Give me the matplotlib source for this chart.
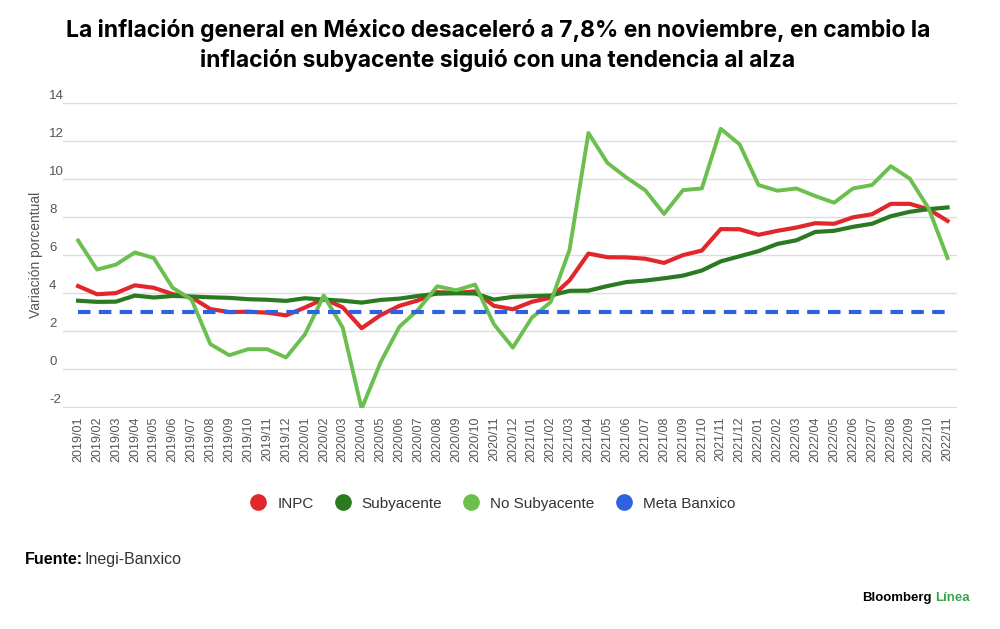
import matplotlib
matplotlib.use("Agg")
import matplotlib.pyplot as plt
from matplotlib.lines import Line2D
from matplotlib import transforms

# %%
months = [f"{y}/{m:02d}" for y in range(2019, 2023) for m in range(1, 13)][:47]

inpc = [4.37, 3.94, 4.00, 4.41, 4.28, 3.95, 3.78, 3.16, 3.00, 3.02, 2.97, 2.83,
        3.24, 3.70, 3.25, 2.15, 2.84, 3.33, 3.62, 4.05, 4.01, 4.09, 3.33, 3.15,
        3.54, 3.76, 4.67, 6.08, 5.89, 5.88, 5.81, 5.59, 6.00, 6.24, 7.37, 7.36,
        7.07, 7.28, 7.45, 7.68, 7.65, 7.99, 8.15, 8.70, 8.70, 8.41, 7.80]
subyacente = [3.60, 3.54, 3.55, 3.87, 3.77, 3.85, 3.82, 3.78, 3.75, 3.68, 3.65, 3.59,
              3.73, 3.66, 3.60, 3.50, 3.64, 3.71, 3.85, 3.97, 3.99, 3.98, 3.66, 3.80,
              3.84, 3.87, 4.12, 4.13, 4.37, 4.58, 4.66, 4.78, 4.92, 5.19, 5.67, 5.94,
              6.21, 6.59, 6.78, 7.22, 7.28, 7.49, 7.65, 8.05, 8.28, 8.42, 8.51]
no_subyacente = [6.77, 5.24, 5.50, 6.14, 5.85, 4.28, 3.66, 1.31, 0.73, 1.05, 1.05, 0.61,
                 1.83, 3.87, 2.18, -2.09, 0.35, 2.23, 3.14, 4.36, 4.15, 4.45, 2.36, 1.13,
                 2.70, 3.53, 6.28, 12.43, 10.86, 10.09, 9.42, 8.17, 9.42, 9.51, 12.65, 11.83,
                 9.69, 9.39, 9.51, 9.11, 8.76, 9.51, 9.69, 10.68, 10.03, 8.46, 5.85]
meta_banxico = [3.0] * len(months)

yticks = [-2, 0, 2, 4, 6, 8, 10, 12, 14]

RED = "#e2272c"
DARK_GREEN = "#2b7a22"
LIGHT_GREEN = "#6bbf4e"
BLUE = "#2f62df"
GREY = "#555555"

plt.rcParams["font.family"] = ["Liberation Sans", "DejaVu Sans"]

# %%
fig = plt.figure(figsize=(10, 6.29), dpi=100)
ax = fig.add_axes([0.063, 0.351, 0.894, 0.485])

x = range(len(months))
ax.plot(x, inpc, color=RED, lw=3.0, solid_joinstyle="round", zorder=3)
ax.plot(x, subyacente, color=DARK_GREEN, lw=3.0, solid_joinstyle="round", zorder=3)
ax.plot(x, no_subyacente, color=LIGHT_GREEN, lw=2.8, solid_joinstyle="round", zorder=4)
ax.plot(x, meta_banxico, color=BLUE, lw=3.0, dashes=(3, 2), zorder=5)

ax.set_xlim(-0.8, len(months) - 0.5)
ax.set_ylim(-2.06, 14)
ax.set_yticks(yticks)
ax.yaxis.grid(True, color="#dcdcdc", lw=1)
ax.set_axisbelow(True)
for s in ax.spines.values():
    s.set_visible(False)

ax.set_xticks(list(x))
ax.set_xticklabels(months, rotation=90, fontsize=9, color=GREY)
ax.tick_params(axis="both", length=0)
ax.tick_params(axis="x", pad=6)

# y labels sit left-aligned, a bit above the gridlines
ax.set_yticklabels([])
off = transforms.ScaledTranslation(-14 / 100, 7 / 100, fig.dpi_scale_trans)
for t in yticks:
    ax.text(0, t, str(t), transform=ax.get_yaxis_transform() + off,
            ha="left", va="center", fontsize=9.5, color=GREY)

fig.text(0.036, 0.595, "Variación porcentual", rotation=90, ha="center", va="center",
         fontsize=10, color=GREY)

# title
fig.text(0.498, 0.952, "La inflación general en México desaceleró a 7,8% en noviembre, en cambio la",
         ha="center", va="center", fontsize=16.5, fontweight="bold", family="Inter")
fig.text(0.498, 0.904, "inflación subyacente siguió con una tendencia al alza",
         ha="center", va="center", fontsize=16.5, fontweight="bold", family="Inter")

# legend
handles = [Line2D([], [], ls="none", marker="o", ms=11, color=c)
           for c in (RED, DARK_GREEN, LIGHT_GREEN, BLUE)]
fig.legend(handles, ["INPC", "Subyacente", "No Subyacente", "Meta Banxico"],
           loc="center", bbox_to_anchor=(0.489, 0.199), ncol=4, frameon=False,
           fontsize=11, handletextpad=0.25, columnspacing=0.9,
           labelcolor="#333333")

fig.text(0.025, 0.11, "Fuente:", fontsize=11.5, fontweight="bold", va="center")
fig.text(0.085, 0.11, "Inegi-Banxico", fontsize=11.5, va="center", color="#333333")

fig.text(0.932, 0.049, "Bloomberg", fontsize=9.5, fontweight="bold", ha="right", va="center")
fig.text(0.935, 0.049, "Línea", fontsize=9.5, fontweight="bold", ha="left", va="center",
         color="#3aa64a")

fig.savefig("out.png", dpi=100)
